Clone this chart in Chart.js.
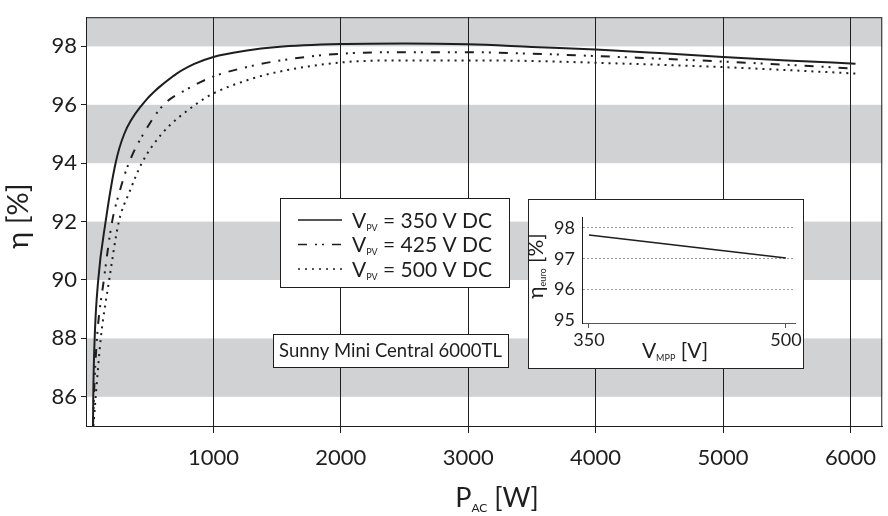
<!DOCTYPE html>
<html>
<head>
<meta charset="utf-8">
<script src="https://cdn.jsdelivr.net/npm/chart.js@4"></script>
<style>
  html, body { margin: 0; padding: 0; background: #fff; }
  #wrap { position: relative; width: 888px; height: 516px; }
  #inset { position: absolute; left: 528px; top: 199px; width: 276px; height: 170px;
           box-sizing: border-box; border: 1px solid #222; background: #fff; }
  canvas { display: block; }
</style>
</head>
<body>
<div id="wrap">
  <canvas id="main" width="888" height="516"></canvas>
  <div id="inset"><canvas id="euro" width="274" height="168"></canvas></div>
</div>
<script>
// efficiency curves
const voltages = [350, 425, 500]
const pac350 = [55, 57, 68, 96, 154, 232, 300, 440, 690, 850, 1000, 1250, 1500, 2000, 2500, 3000, 3500, 4000, 4500, 5000, 5500, 6040]
const eta350 = [85, 86, 88, 90, 92, 94, 95, 96, 97, 97.4, 97.64, 97.85, 97.98, 98.08, 98.1, 98.07, 97.98, 97.89, 97.77, 97.64, 97.52, 97.41]
const pac425 = [55, 62, 86, 140, 205, 262, 336, 450, 609, 800, 1000, 1250, 1500, 2000, 2500, 3000, 3500, 4000, 4500, 5000, 5500, 6040]
const eta425 = [85, 86, 88, 90, 92, 93, 94, 95, 96, 96.55, 96.97, 97.28, 97.5, 97.75, 97.8, 97.8, 97.75, 97.67, 97.58, 97.48, 97.37, 97.24]
const pac500 = [58, 76, 116, 182, 258, 340, 438, 594, 857, 1000, 1250, 1500, 2000, 2500, 3000, 3500, 4000, 4500, 5000, 5500, 6040]
const eta500 = [85, 86, 88, 90, 92, 93, 94, 95, 96, 96.39, 96.82, 97.12, 97.45, 97.52, 97.52, 97.5, 97.44, 97.37, 97.29, 97.19, 97.07]
const xTicks = [1000, 2000, 3000, 4000, 5000, 6000]
const yTicks = [86, 88, 90, 92, 94, 96, 98]

// inset: euro efficiency vs MPP voltage
const vmpp = [350, 500]
const etaEuro = [97.77, 97.03]
const insetXTicks = [350, 500]
const insetYTicks = [95, 96, 97, 98]

const FONT = 'Lato, "Noto Sans", sans-serif'
const INK = '#1e1e1e'

function pts(xs, ys) {
  return xs.map((x, i) => ({ x: x, y: ys[i] }))
}

// draws text runs, some lowered as subscripts
function drawRuns(ctx, x, y, runs, align) {
  let total = 0
  runs.forEach(r => {
    ctx.font = r.size + 'px ' + FONT
    r.w = ctx.measureText(r.t).width
    total += r.w
  })
  let cx = align === 'center' ? x - total / 2 : x
  ctx.textAlign = 'left'
  ctx.textBaseline = 'alphabetic'
  runs.forEach(r => {
    ctx.font = r.size + 'px ' + FONT
    ctx.fillText(r.t, cx, y + (r.dy || 0))
    cx += r.w
  })
}

const decor = {
  id: 'decor',
  beforeDraw(chart) {
    const { ctx, chartArea: a, scales: { y } } = chart
    ctx.save()
    ctx.fillStyle = '#d1d2d4'
    for (let v = 86; v < y.max; v += 4) {
      const top = y.getPixelForValue(Math.min(v + 2, y.max))
      const bot = y.getPixelForValue(v)
      ctx.fillRect(a.left, top, a.right - a.left, bot - top)
    }
    ctx.restore()
  },
  afterDraw(chart) {
    const { ctx, chartArea: a } = chart
    ctx.save()
    ctx.strokeStyle = INK
    ctx.lineWidth = 1
    ctx.strokeRect(a.left + 0.5, a.top + 0.5, a.right - a.left - 1, a.bottom - a.top)

    // legend box
    ctx.fillStyle = '#fff'
    ctx.fillRect(280, 198, 229, 89)
    ctx.strokeRect(280.5, 198.5, 229, 89)
    chart.data.datasets.forEach((ds, i) => {
      const ry = 220 + i * 24.5
      ctx.save()
      ctx.strokeStyle = INK
      ctx.lineWidth = 1.5
      ctx.setLineDash(ds.borderDash || [])
      ctx.beginPath()
      ctx.moveTo(298, ry)
      ctx.lineTo(342, ry)
      ctx.stroke()
      ctx.restore()
      ctx.fillStyle = INK
      drawRuns(ctx, 352, ry + 7.5, [
        { t: 'V', size: 21 },
        { t: 'PV', size: 9, dy: 3 },
        { t: ' = ' + voltages[i] + ' V DC', size: 21 }
      ])
    })

    // model box
    ctx.fillStyle = '#fff'
    ctx.fillRect(273, 334, 235, 33)
    ctx.strokeRect(273.5, 334.5, 235, 33)
    ctx.fillStyle = INK
    drawRuns(ctx, 390.5, 357, [{ t: 'Sunny Mini Central 6000TL', size: 18.5 }], 'center')

    // axis titles
    drawRuns(ctx, 497, 507, [
      { t: 'P', size: 27 },
      { t: 'AC', size: 12, dy: 5 },
      { t: ' [W]', size: 27 }
    ], 'center')
    ctx.translate(28, 216)
    ctx.rotate(-Math.PI / 2)
    drawRuns(ctx, 0, 0, [{ t: 'η [%]', size: 29 }], 'center')
    ctx.restore()
  }
}

const line = {
  borderColor: INK,
  borderWidth: 2,
  pointRadius: 0,
  fill: false,
  cubicInterpolationMode: 'monotone'
}

new Chart(document.getElementById('main'), {
  type: 'line',
  data: {
    datasets: [
      { ...line, label: '350', data: pts(pac350, eta350) },
      { ...line, label: '425', data: pts(pac425, eta425), borderDash: [9, 8, 2, 5, 2, 8] },
      { ...line, label: '500', data: pts(pac500, eta500), borderDash: [2, 5] }
    ]
  },
  options: {
    responsive: false,
    animation: false,
    devicePixelRatio: 1,
    layout: { padding: { top: 6, right: 2, left: 0, bottom: 0 } },
    plugins: { legend: { display: false }, tooltip: { enabled: false } },
    scales: {
      x: {
        type: 'linear',
        min: 0,
        max: 6250,
        afterBuildTicks: s => { s.ticks = xTicks.map(v => ({ value: v })) },
        afterFit: s => { s.height = 90 },
        grid: { color: INK, lineWidth: 1, tickLength: 7, drawOnChartArea: true },
        border: { display: true, color: INK },
        ticks: { color: INK, padding: 12, font: { family: FONT, size: 22 }, callback: v => String(v) }
      },
      y: {
        min: 85,
        max: 99,
        afterBuildTicks: s => { s.ticks = yTicks.map(v => ({ value: v })) },
        afterFit: s => { s.width = 86 },
        grid: { color: INK, tickLength: 5, drawOnChartArea: false },
        border: { display: true, color: INK },
        ticks: { color: INK, padding: 4, font: { family: FONT, size: 22 } }
      }
    }
  },
  plugins: [decor]
})

const insetTitles = {
  id: 'insetTitles',
  afterDraw(chart) {
    const { ctx } = chart
    ctx.save()
    ctx.fillStyle = INK
    drawRuns(ctx, 146, 158, [
      { t: 'V', size: 21 },
      { t: 'MPP', size: 9, dy: 3 },
      { t: ' [V]', size: 21 }
    ], 'center')
    ctx.translate(14, 66)
    ctx.rotate(-Math.PI / 2)
    drawRuns(ctx, 0, 0, [
      { t: 'η', size: 21 },
      { t: 'euro', size: 9, dy: 3 },
      { t: ' [%]', size: 21 }
    ], 'center')
    ctx.restore()
  }
}

new Chart(document.getElementById('euro'), {
  type: 'line',
  data: {
    datasets: [{ ...line, borderWidth: 1.5, data: pts(vmpp, etaEuro) }]
  },
  options: {
    responsive: false,
    animation: false,
    devicePixelRatio: 1,
    layout: { padding: { top: 10, right: 8, left: 0, bottom: 0 } },
    plugins: { legend: { display: false }, tooltip: { enabled: false } },
    scales: {
      x: {
        type: 'linear',
        min: 344.7,
        max: 506.9,
        afterBuildTicks: s => { s.ticks = insetXTicks.map(v => ({ value: v })) },
        afterFit: s => { s.height = 45 },
        grid: { color: '#555', tickLength: 5, drawOnChartArea: false },
        border: { display: true, color: '#555' },
        ticks: { color: INK, padding: 1, font: { family: FONT, size: 18 } }
      },
      y: {
        min: 94.92,
        max: 98.33,
        afterBuildTicks: s => { s.ticks = insetYTicks.map(v => ({ value: v })) },
        afterFit: s => { s.width = 53 },
        grid: {
          color: c => (c.tick && c.tick.value === 95 ? 'rgba(0,0,0,0)' : '#9a9a9a'),
          drawTicks: false
        },
        border: { display: true, color: INK, dash: [2, 2] },
        ticks: { color: INK, padding: 7, font: { family: FONT, size: 18 } }
      }
    }
  },
  plugins: [insetTitles]
})
</script>
</body>
</html>
